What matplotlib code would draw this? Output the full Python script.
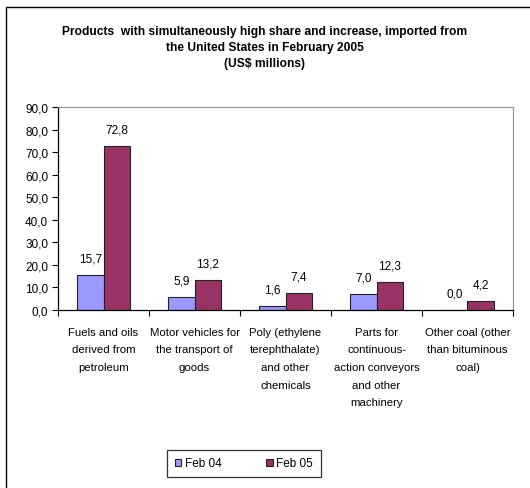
import matplotlib
matplotlib.use("Agg")
import matplotlib.pyplot as plt
from matplotlib.patches import Rectangle
from matplotlib.ticker import FixedLocator, FuncFormatter
import numpy as np

plt.rcParams['font.family'] = ['Liberation Sans', 'DejaVu Sans']

categories = [
    "Fuels and oils\nderived from\npetroleum",
    "Motor vehicles for\nthe transport of\ngoods",
    "Poly (ethylene\nterephthalate)\nand other\nchemicals",
    "Parts for\ncontinuous-\naction conveyors\nand other\nmachinery",
    "Other coal (other\nthan bituminous\ncoal)",
]
feb04 = [15.7, 5.9, 1.6, 7.0, 0.0]
feb05 = [72.8, 13.2, 7.4, 12.3, 4.2]
series_names = ["Feb 04", "Feb 05"]
yticks = [0, 10, 20, 30, 40, 50, 60, 70, 80, 90]
title = ("Products  with simultaneously high share and increase, imported from\n"
         "the United States in February 2005\n(US$ millions)")

c04 = "#9999FF"
c05 = "#993366"

fig = plt.figure(figsize=(5.30, 4.89), dpi=100)
fig.patch.set_facecolor("white")

# outer chart frame
fig.add_artist(Rectangle((6 / 530, -0.05), 1.2, 1 - 8 / 489 + 0.05,
                         transform=fig.transFigure, fill=False,
                         edgecolor="black", linewidth=1.0))

ax = fig.add_axes([58 / 530, 1 - 311 / 489, (513 - 58) / 530, (311 - 108) / 489])

x = np.arange(len(categories))
w = 0.29
b1 = ax.bar(x - w / 2, feb04, w, color=c04, edgecolor="#222222", linewidth=0.8, label=series_names[0])
b2 = ax.bar(x + w / 2, feb05, w, color=c05, edgecolor="#222222", linewidth=0.8, label=series_names[1])

fmt = lambda v: f"{v:.1f}".replace(".", ",")
for bars, vals in ((b1, feb04), (b2, feb05)):
    for rect, v in zip(bars, vals):
        ax.annotate(fmt(v), (rect.get_x() + rect.get_width() / 2, v),
                    xytext=(0, 7.5), textcoords="offset points",
                    ha="center", va="bottom", fontsize=8.5)

ax.set_xlim(-0.5, len(categories) - 0.5)
ax.set_ylim(0, 90)
ax.yaxis.set_major_locator(FixedLocator(yticks))
ax.yaxis.set_major_formatter(FuncFormatter(lambda v, p: fmt(v)))
ax.tick_params(axis="y", direction="out", length=4, width=0.8, labelsize=8.5, pad=3)

ax.set_xticks(x)
ax.set_xticklabels(categories, fontsize=8.2, linespacing=1.96, va="top")
ax.tick_params(axis="x", length=0, pad=12)
ax.set_xticks(np.arange(len(categories) + 1) - 0.5, minor=True)
ax.tick_params(axis="x", which="minor", direction="out", length=4, width=0.8)

for s in ("left", "bottom"):
    ax.spines[s].set_color("black")
    ax.spines[s].set_linewidth(0.9)
for s in ("top", "right"):
    ax.spines[s].set_color("#999999")
    ax.spines[s].set_linewidth(0.9)

fig.text(0.5, 1 - 25.5 / 489, title, ha="center", va="top", fontsize=8.65,
         fontweight="bold", linespacing=1.5)

leg = fig.legend(handles=[b1, b2], labels=series_names, loc="center",
                 bbox_to_anchor=(244 / 530, 1 - 464.5 / 489), ncol=2,
                 fontsize=8.5, frameon=True, fancybox=False, edgecolor="black",
                 handlelength=0.55, handleheight=0.55, columnspacing=3.8,
                 handletextpad=0.3, borderpad=0.65, borderaxespad=0)
leg.get_frame().set_linewidth(0.9)

fig.savefig("out.png", dpi=100)
